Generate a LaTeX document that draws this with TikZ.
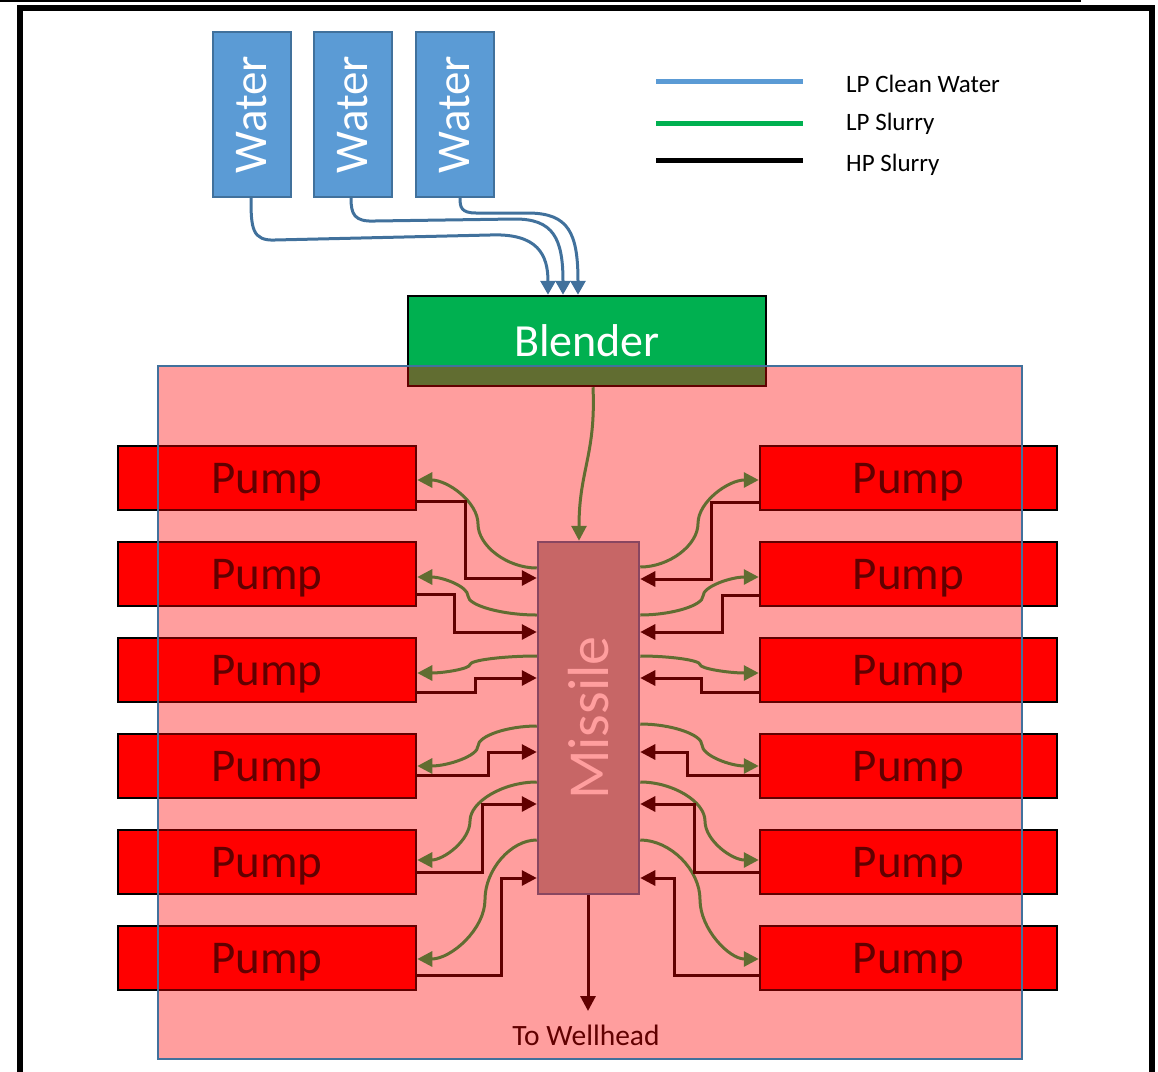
\documentclass[tikz,border=0pt]{standalone}
\usepackage{fontspec}
\setmainfont{Carlito}
\usetikzlibrary{arrows.meta,calc}
\definecolor{wfill}{HTML}{5B9BD5}
\definecolor{wdraw}{HTML}{41719C}
\definecolor{bgreen}{HTML}{00B050}
\definecolor{mgray}{HTML}{A5A5A5}
\newcommand\gcurve[3]{\draw[gl] let \p1=(#1), \p2=(#3) in (\p1) .. controls ({(\x1+#2pt)/2},\y1) and (#2pt,{\y1+(\y2-\y1)/4}) .. (#2pt,{(\y1+\y2)/2}) .. controls (#2pt,{\y1+3*(\y2-\y1)/4}) and ({(#2pt+\x2)/2},\y2) .. (\p2);}
\begin{document}
\begin{tikzpicture}[x=1pt,y=-1pt,
  water/.style={draw=wdraw, fill=wfill, line width=2pt, minimum width=78pt, minimum height=165pt, inner sep=0pt},
  wtext/.style={rotate=90, text=white, inner sep=0pt, font=\fontsize{47}{50}\selectfont},
  pumpbox/.style={draw=black, fill=red, line width=2.5pt, minimum width=298pt, minimum height=64pt, inner sep=0pt, text depth=-5pt, font=\fontsize{47}{50}\selectfont},
  legtext/.style={anchor=base west, inner sep=0pt, font=\fontsize{25}{28}\selectfont},
  wl/.style={draw=wdraw, line width=3pt, -{Triangle[width=15pt,length=14pt]}},
  gl/.style={draw=bgreen, line width=3pt, -{Triangle[width=15pt,length=15pt]}},
  hp/.style={draw=black, line width=3pt, -{Triangle[width=15pt,length=15pt]}},
]
\useasboundingbox (0,0) rectangle (1158,1071);
% frame
\draw[line width=1.5pt] (0,0.75) -- (1081,0.75);
\draw[line width=6pt] (20,1080) -- (20,8) -- (1152,8) -- (1152,1080);

% water tanks
\node[water] (W1) at (252,114.5) {};
\node[water] (W2) at (353,114.5) {};
\node[water] (W3) at (454.5,114.5) {};
\node[wtext] (W1t) at (W1) {Water};
\node[wtext] (W2t) at (W2) {Water};
\node[wtext] (W3t) at (W3) {Water};

% legend
\coordinate (la1) at (656,81); \coordinate (lb1) at (803,81);
\coordinate (la2) at (656,123); \coordinate (lb2) at (803,123);
\coordinate (la3) at (656,160); \coordinate (lb3) at (803,160);
\draw[wfill, line width=5pt] (la1) -- (lb1);
\draw[bgreen, line width=5pt] (la2) -- (lb2);
\draw[black, line width=5pt] (la3) -- (lb3);
\node[legtext] (t1) at (846,92) {LP Clean Water};
\node[legtext] (t2) at (846,130) {LP Slurry};
\node[legtext] (t3) at (846,171) {HP Slurry};

% blender
\node[draw=black, fill=bgreen, line width=2.5pt, minimum width=358pt, minimum height=90pt, inner sep=0pt, text=white, font=\fontsize{46}{50}\selectfont] (B) at (587,341) {Blender};

% water lines
\draw[wl] (W1.south -| 251,0) .. controls (251,228) and (252,241) .. (275,240) -- (490,235) .. controls (538,233) and (548,255) .. (B.north -| 548,0);
\draw[wl] (W2.south -| 351,0) .. controls (351,214) and (354,222) .. (375,221) -- (515,219) .. controls (553,219) and (563,238) .. (B.north -| 563,0);
\draw[wl] (W3.south -| 460,0) .. controls (460,207) and (461,213) .. (476,213) -- (530,213) .. controls (568,214) and (578,232) .. (B.north -| 578,0);

% pumps
\foreach \i/\yy in {1/478,2/574,3/670,4/766,5/862,6/958}{
  \node[pumpbox] (L\i) at (267,\yy) {Pump};
  \node[pumpbox, minimum width=297pt] (R\i) at (908.5,\yy) {Pump};
}

% missile
\node[draw=wdraw, fill=mgray, line width=2.5pt, minimum width=101pt, minimum height=352pt, inner sep=0pt] (M) at (588.5,718) {};
\node[rotate=90, text=white, inner sep=0pt, font=\fontsize{58}{60}\selectfont] (Mt) at (M) {Missile};

% blender to missile
\draw[gl] (B.south -| 593,0) .. controls (596,455) and (579,470) .. (M.north -| 579,0);

% green LP slurry curves, left
\gcurve{M.west|-0,568}{478}{L1.east|-0,480}
\gcurve{M.west|-0,615}{468}{L2.east|-0,577}
\gcurve{M.west|-0,656}{470}{L3.east|-0,673}
\gcurve{M.west|-0,726}{478}{L4.east|-0,766}
\gcurve{M.west|-0,782}{470}{L5.east|-0,860}
\gcurve{M.west|-0,840}{485}{L6.east|-0,959}
% right
\gcurve{M.east|-0,567}{698}{R1.west|-0,480}
\gcurve{M.east|-0,615}{703}{R2.west|-0,577}
\gcurve{M.east|-0,656}{700}{R3.west|-0,673}
\gcurve{M.east|-0,724}{702}{R4.west|-0,766}
\gcurve{M.east|-0,782}{705}{R5.west|-0,860}
\gcurve{M.east|-0,840}{700}{R6.west|-0,959}

% HP lines left
\draw[hp] (L1.east|-0,501) -- (465,501) |- (M.west|-0,578);
\draw[hp] (L2.east|-0,594) -- (454,594) |- (M.west|-0,632);
\draw[hp] (L3.east|-0,692) -- (475,692) |- (M.west|-0,678);
\draw[hp] (L4.east|-0,775) -- (488,775) |- (M.west|-0,752);
\draw[hp] (L5.east|-0,872) -- (482,872) |- (M.west|-0,804);
\draw[hp] (L6.east|-0,975) -- (501,975) |- (M.west|-0,878);
% right
\draw[hp] (R1.west|-0,502) -- (711,502) |- (M.east|-0,579);
\draw[hp] (R2.west|-0,595) -- (722,595) |- (M.east|-0,632);
\draw[hp] (R3.west|-0,692) -- (701,692) |- (M.east|-0,678);
\draw[hp] (R4.west|-0,775) -- (687,775) |- (M.east|-0,752);
\draw[hp] (R5.west|-0,872) -- (694,872) |- (M.east|-0,804);
\draw[hp] (R6.west|-0,975) -- (674,975) |- (M.east|-0,878);

% to wellhead
\coordinate (wh) at (588,1011);
\draw[hp] (M.south -| 588,0) -- (wh);
\node[anchor=base, inner sep=0pt, font=\fontsize{29.5}{32}\selectfont] (TW) at (586,1045) {To Wellhead};

% translucent overlay
\node[draw=wdraw, fill=red, fill opacity=0.38, line width=2pt, minimum width=864pt, minimum height=693pt, inner sep=0pt] (ov) at (590,712.5) {};
\end{tikzpicture}
\end{document}
